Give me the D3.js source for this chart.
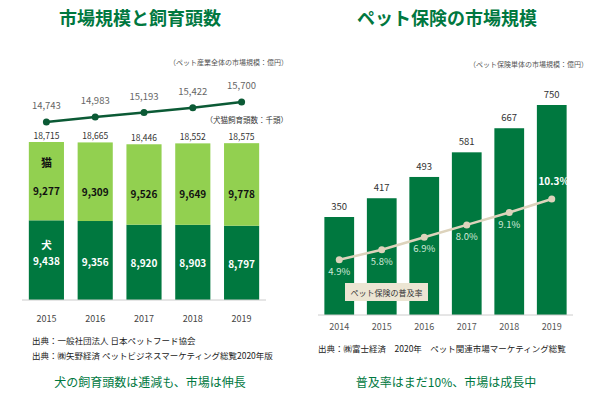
<!DOCTYPE html><html><head><meta charset="utf-8"><script src="https://cdn.jsdelivr.net/npm/d3@7"></script>
<style>body{margin:0;background:#fff}text{font-family:"Noto Sans CJK JP",sans-serif}</style></head><body><svg width="600" height="404"></svg>
<script>
const years1=["2015","2016","2017","2018","2019"];
const dogs=[9438,9356,8920,8903,8797];
const cats=[9277,9309,9526,9649,9778];
const totals=[18715,18665,18446,18552,18575];
const market=[14743,14983,15193,15422,15700];
const years2=["2014","2015","2016","2017","2018","2019"];
const ins=[350,417,493,581,667,750];
const rate=[4.9,5.8,6.9,8.0,9.1,10.3];
const DG="#00783f",LG="#92d050",BE="#ddd3bc";
const svg=d3.select("svg");
const fmt=d3.format(",");
function t(x,y,s,o={}){return svg.append("text").attr("x",x).attr("y",y).text(s).attr("font-size",o.fs||9).attr("fill",o.c||"#333").attr("text-anchor",o.a||"middle").attr("font-weight",o.w||"normal");}
t(140,25,"市場規模と飼育頭数",{fs:18,w:"bold",c:DG});
t(447,25,"ペット保険の市場規模",{fs:18,w:"bold",c:DG});
const x1=d3.scaleBand().domain(years1).range([22,266]).paddingInner(0.28).paddingOuter(0.14);
const y1=d3.scaleLinear().domain([0,18715]).range([300,142]);
const g=svg.append("g");
years1.forEach((yr,i)=>{
 const x=x1(yr),w=x1.bandwidth(),cx=x+w/2;
 g.append("rect").attr("x",x).attr("width",w).attr("y",y1(dogs[i])).attr("height",300-y1(dogs[i])).attr("fill",DG);
 g.append("rect").attr("x",x).attr("width",w).attr("y",y1(totals[i])).attr("height",y1(dogs[i])-y1(totals[i])).attr("fill",LG);
 t(cx,y1(totals[i])-3,fmt(totals[i]),{fs:8.5});
 t(cx,(y1(dogs[i])+y1(totals[i]))/2+14,fmt(cats[i]),{fs:10,w:"bold",c:"#111"});
 t(cx,(y1(dogs[i])+300)/2+5,fmt(dogs[i]),{fs:10,w:"bold",c:"#fff"});
 t(cx,322,yr,{fs:9,c:"#444"});
});
t(x1("2015")+x1.bandwidth()/2,167,"猫",{fs:11,w:"bold",c:"#111"});
t(x1("2015")+x1.bandwidth()/2,249,"犬",{fs:10.5,w:"bold",c:"#fff"});
g.append("line").attr("x1",22).attr("x2",266).attr("y1",300).attr("y2",300).attr("stroke","#ccc");
const ym=d3.scaleLinear().domain([14743,15700]).range([122,102]);
const cx1=d=>x1(d)+x1.bandwidth()/2;
g.append("path").datum(market).attr("d",d3.line().x((d,i)=>cx1(years1[i])).y(d=>ym(d))).attr("stroke","#0b5a35").attr("stroke-width",2.5).attr("fill","none");
market.forEach((m,i)=>{g.append("circle").attr("cx",cx1(years1[i])).attr("cy",ym(m)).attr("r",3.5).attr("fill","#0b5a35");t(cx1(years1[i]),ym(m)-13,fmt(m),{fs:9.5,c:"#666"});});
t(288,65,"（ペット産業全体の市場規模：億円）",{fs:7,a:"end",c:"#555"});
t(288,123,"（犬猫飼育頭数：千頭）",{fs:7.5,a:"end",c:"#333"});
const x2=d3.scaleBand().domain(years2).range([318,573]).paddingInner(0.3).paddingOuter(0.15);
const y2=d3.scaleLinear().domain([0,750]).range([315,105]);
const yr2=d3.scaleLinear().domain([0,10.3]).range([315,199]);
const cx2=d=>x2(d)+x2.bandwidth()/2;
years2.forEach((yr,i)=>{
 svg.append("rect").attr("x",x2(yr)).attr("width",x2.bandwidth()).attr("y",y2(ins[i])).attr("height",315-y2(ins[i])).attr("fill",DG);
 t(cx2(yr),y2(ins[i])-7,ins[i],{fs:9.5,c:"#333"});
 t(cx2(yr),330,yr,{fs:9,c:"#555"});
});
svg.append("line").attr("x1",318).attr("x2",573).attr("y1",315).attr("y2",315).attr("stroke","#ccc");
svg.append("path").datum(rate).attr("d",d3.line().x((d,i)=>cx2(years2[i])).y(d=>yr2(d))).attr("stroke",BE).attr("stroke-width",2.5).attr("fill","none");
rate.forEach((r,i)=>{svg.append("circle").attr("cx",cx2(years2[i])).attr("cy",yr2(r)).attr("r",3.5).attr("fill",BE);
 if(i<5)t(cx2(years2[i]),yr2(r)+15,r.toFixed(1)+"%",{fs:9.5,c:"#cfe8d8"});
 else t(cx2(years2[i])+2,yr2(r)-14,r.toFixed(1)+"%",{fs:10,w:"bold",c:"#fff"});});
svg.append("rect").attr("x",345).attr("y",283).attr("width",83).attr("height",18).attr("fill","#ece5d3");
t(386.5,296,"ペット保険の普及率",{fs:8,c:"#333"});
t(588,67,"（ペット保険単体の市場規模：億円）",{fs:7,a:"end",c:"#555"});
t(32,344,"出典：一般社団法人 日本ペットフード協会",{fs:8.5,a:"start",c:"#222"});
t(32,359,"出典：㈱矢野経済 ペットビジネスマーケティング総覧2020年版",{fs:8.5,a:"start",c:"#222"});
t(318,352,"出典：㈱富士経済　2020年　ペット関連市場マーケティング総覧",{fs:8.5,a:"start",c:"#222"});
t(150,387,"犬の飼育頭数は逓減も、市場は伸長",{fs:12,c:DG});
t(446,387,"普及率はまだ10%、市場は成長中",{fs:12,c:DG});
</script></body></html>
